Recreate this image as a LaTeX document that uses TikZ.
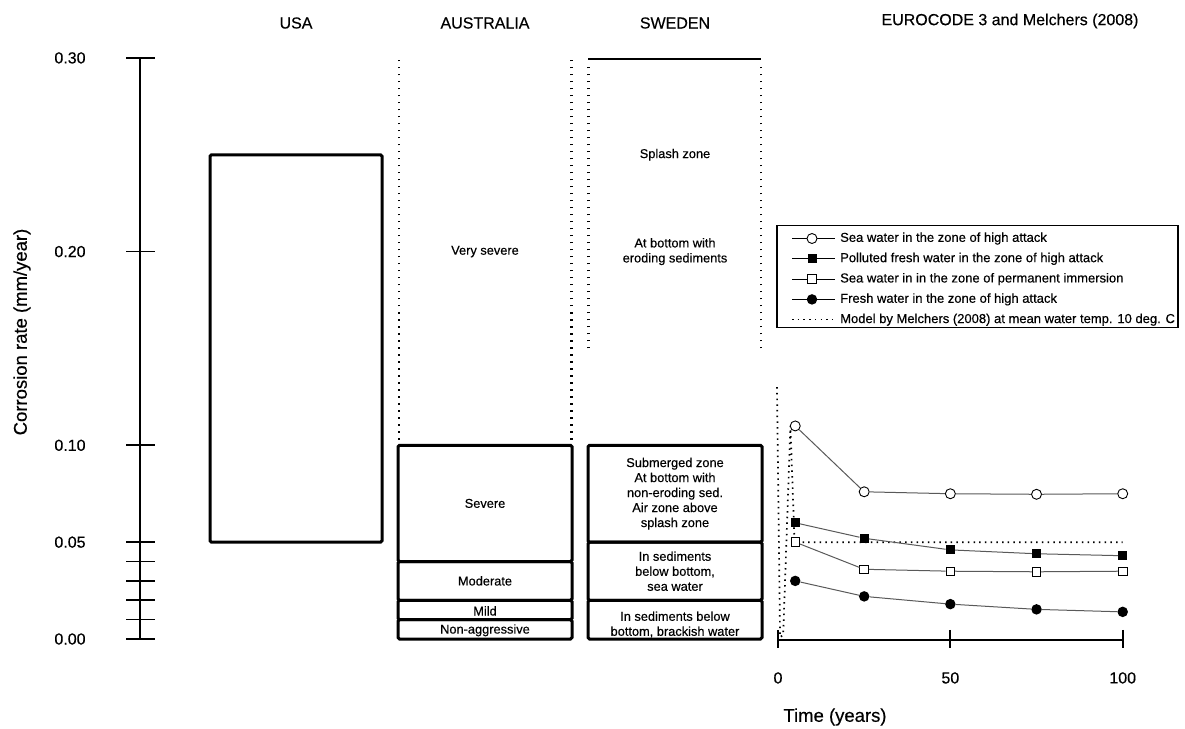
\documentclass[tikz,border=0pt]{standalone}
\usepackage{fontspec}
\setmainfont{Liberation Sans}[FakeBold=0.35]
\usetikzlibrary{positioning}

\begin{document}
\begin{tikzpicture}[x=1pt,y=-1pt]
  \tikzstyle{TitleStyle}=[font=\fontsize{16}{19}\selectfont]
  \tikzstyle{TickLabel}=[font=\fontsize{16}{19}\selectfont]
  \tikzstyle{AxisLabel}=[font=\fontsize{18.5}{22}\selectfont]
  \tikzstyle{ZoneText}=[align=center,font=\fontsize{12.8}{15}\selectfont]
  \tikzstyle{LegendText}=[anchor=west,inner sep=0pt,font=\fontsize{13}{15}\selectfont]
  \tikzstyle{ZoneBox}=[draw,line width=3pt,rounded corners=1.5pt]
  \tikzstyle{OpenZone}=[line width=2.6pt,dash pattern=on 1.2pt off 5.8pt]
  \tikzstyle{Tick}=[line width=1.6pt]
  \tikzstyle{Series}=[line width=1pt,black!65]
  \tikzstyle{Model}=[line width=1.7pt,dash pattern=on 1.5pt off 4.2pt]
  \tikzstyle{OpenCircle}=[circle,draw,line width=0.9pt,fill=white,inner sep=0pt,minimum size=10pt]
  \tikzstyle{FullCircle}=[circle,fill=black,inner sep=0pt,minimum size=10.5pt]
  \tikzstyle{OpenSquare}=[rectangle,draw,line width=0.9pt,fill=white,inner sep=0pt,minimum size=8.5pt]
  \tikzstyle{FullSquare}=[rectangle,fill=black,inner sep=0pt,minimum size=9pt]
  \useasboundingbox (0,0) rectangle (1185,728);

  % column titles
  \node[TitleStyle] (usa) at (296,23) {USA};
  \node[TitleStyle] (aus) at (485,23) {AUSTRALIA};
  \node[TitleStyle] (swe) at (675,23) {SWEDEN};
  \node[TitleStyle] (euro) at (1010,21) {EUROCODE 3 and Melchers (2008)};

  \node[AxisLabel,rotate=90] (ylabel) at (22,332) {Corrosion rate (mm/year)};

  \begin{scope}[shift={(0,639)},y=1937pt]
    % rate axis
    \draw[line width=2pt] (140,0) -- (140,0.30);
    \foreach \v in {0,0.01,0.02,0.03,0.04,0.05,0.10,0.20,0.30}
      \draw[Tick] (126,\v) -- (155,\v);
    \foreach \v/\name in {0.00/a,0.05/b,0.10/c,0.20/d,0.30/e}
      \node[TickLabel] (ytick\name) at (70,\v) {\v};

    % USA
    \draw[ZoneBox] (210,0.05) rectangle (382,0.25);

    % Australia
    \draw[OpenZone] (399,0.103) -- (399,0.30);
    \draw[OpenZone] (571.5,0.103) -- (571.5,0.30);
    \draw[ZoneBox] (398,0.04) rectangle (572,0.10);
    \draw[ZoneBox] (398,0.02) rectangle (572,0.04);
    \draw[ZoneBox] (398,0.01) rectangle (572,0.02);
    \draw[ZoneBox] (398,0) rectangle (572,0.01);
    \node[ZoneText] (vsevere) at (485,0.20) {Very severe};
    \node[ZoneText] (severe) at (485,0.07) {Severe};
    \node[ZoneText] (moderate) at (485,0.03) {Moderate};
    \node[ZoneText] (mild) at (485,0.0145) {Mild};
    \node[ZoneText] (nonaggr) at (485,0.0045) {Non-aggressive};

    % Sweden
    \draw[line width=2.5pt] (588,0.2995) -- (761,0.2995);
    \draw[OpenZone] (588.5,0.15) -- (588.5,0.296);
    \draw[OpenZone] (761,0.15) -- (761,0.296);
    \draw[ZoneBox] (588,0.05) rectangle (762,0.10);
    \draw[ZoneBox] (588,0.02) rectangle (762,0.05);
    \draw[ZoneBox] (588,0) rectangle (762,0.02);
    \node[ZoneText] (splash) at (675,0.25) {Splash zone};
    \node[ZoneText] (eroding) at (675,0.20) {At bottom with\\eroding sediments};
    \node[ZoneText] (submerged) at (675,0.075) {Submerged zone\\At bottom with\\non-eroding sed.\\Air zone above\\splash zone};
    \node[ZoneText] (seased) at (675,0.035) {In sediments\\below bottom,\\sea water};
    \node[ZoneText] (brackish) at (675,0.0075) {In sediments below\\bottom, brackish water};
  \end{scope}

  % Eurocode 3 series
  \begin{scope}[shift={(778,639)},x=3.447pt,y=1937pt]
    \draw[line width=2pt] (0,-0.0005) -- (100,-0.0005);
    \foreach \t in {0,50,100} {
      \draw[line width=2pt] (\t,0.0047) -- (\t,-0.0047);
      \node[TickLabel] (xtick\t) at (\t,-0.0201) {\t};
    }
    \draw[Model] (-0.3,0.13) -- (0.6,0.001) -- (1.5,0.002) -- (3.6,0.11)
      -- (4.8,0.05) -- (100,0.05);

    \node[OpenCircle] (sea1) at (5,0.110) {};
    \node[OpenCircle] (sea2) at (25,0.076) {};
    \node[OpenCircle] (sea3) at (50,0.075) {};
    \node[OpenCircle] (sea4) at (75,0.0747) {};
    \node[OpenCircle] (sea5) at (100,0.075) {};
    \node[FullSquare] (pol1) at (5,0.060) {};
    \node[FullSquare] (pol2) at (25,0.052) {};
    \node[FullSquare] (pol3) at (50,0.046) {};
    \node[FullSquare] (pol4) at (75,0.044) {};
    \node[FullSquare] (pol5) at (100,0.043) {};
    \node[OpenSquare] (imm1) at (5,0.050) {};
    \node[OpenSquare] (imm2) at (25,0.036) {};
    \node[OpenSquare] (imm3) at (50,0.035) {};
    \node[OpenSquare] (imm4) at (75,0.0347) {};
    \node[OpenSquare] (imm5) at (100,0.035) {};
    \node[FullCircle] (fre1) at (5,0.030) {};
    \node[FullCircle] (fre2) at (25,0.022) {};
    \node[FullCircle] (fre3) at (50,0.018) {};
    \node[FullCircle] (fre4) at (75,0.0153) {};
    \node[FullCircle] (fre5) at (100,0.014) {};
    \draw[Series] (sea1) -- (sea2) -- (sea3) -- (sea4) -- (sea5);
    \draw[Series] (pol1) -- (pol2) -- (pol3) -- (pol4) -- (pol5);
    \draw[Series] (imm1) -- (imm2) -- (imm3) -- (imm4) -- (imm5);
    \draw[Series] (fre1) -- (fre2) -- (fre3) -- (fre4) -- (fre5);
  \end{scope}
  \node[AxisLabel] (xlabel) at (835,717) {Time (years)};

  % legend
  \node[draw,line width=1.3pt,inner sep=0pt,minimum width=401pt,minimum height=102pt] (legend) at (977.5,276.5) {};
  \foreach \i/\mk/\txt in {1/OpenCircle/Sea water in the zone of high attack,
      2/FullSquare/Polluted fresh water in the zone of high attack,
      3/OpenSquare/Sea water in in the zone of permanent immersion,
      4/FullCircle/Fresh water in the zone of high attack} {
    \pgfmathsetmacro\ry{238.5+20.3*(\i-1)}
    \coordinate (lga\i) at (792,\ry);
    \coordinate (lgb\i) at (835,\ry);
    \draw[line width=1.2pt] (lga\i) -- (lgb\i);
    \node[\mk] (lgm\i) at (812,\ry) {};
    \node[LegendText,right=5pt of lgb\i] (lgt\i) {\txt};
  }
  \coordinate (lga5) at (792,319.7);
  \coordinate (lgb5) at (835,319.7);
  \draw[Model,line width=1.2pt] (lga5) -- (lgb5);
  \node[LegendText,right=5pt of lgb5] (lgt5) {Model by Melchers (2008) at mean water temp. 10 deg. C};
\end{tikzpicture}
\end{document}
